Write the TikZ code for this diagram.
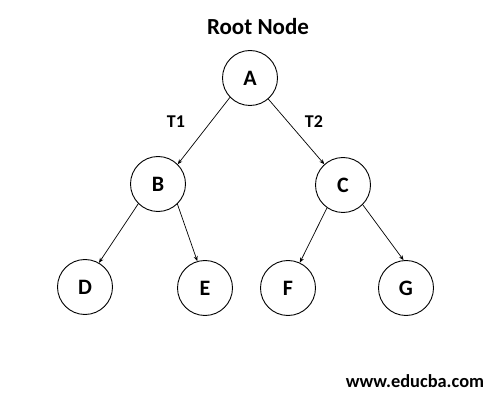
\documentclass[tikz,border=0pt]{standalone}
\usepackage{fontspec}
\setmainfont{Carlito}
\usetikzlibrary{arrows.meta}
\begin{document}
\begin{tikzpicture}[x=1pt,y=-1pt,
  tnode/.style={circle,draw,line width=0.9pt,minimum size=55pt,inner sep=0pt,font=\bfseries\fontsize{22}{24}\selectfont},
  lbl/.style={font=\bfseries\fontsize{18}{20}\selectfont},
  edge/.style={line width=0.7pt,-{Stealth[length=5pt,width=4pt]}}]
\useasboundingbox (0,0) rectangle (504,401);
\node[font=\bfseries\fontsize{23}{26}\selectfont] (title) at (258,27) {Root Node};
\node[tnode] (A) at (250,78) {A};
\node[tnode] (B) at (158,184) {B};
\node[tnode] (C) at (343,185) {C};
\node[tnode] (D) at (85,287) {D};
\node[tnode] (E) at (205,288) {E};
\node[tnode] (F) at (288,288) {F};
\node[tnode] (G) at (406,288) {G};
\node[lbl] (t1) at (176,122) {T1};
\node[lbl] (t2) at (314,122) {T2};
\node[font=\bfseries\fontsize{18.4}{20}\selectfont] (web) at (415,381) {www.educba.com};
\draw[edge] (A.-136) -- (B.45);
\draw[edge] (A.-49) -- (C.132);
\draw[edge] (B.-135) -- (D.60);
\draw[edge] (B.-46) -- (E.106);
\draw[edge] (C.-125) -- (F.65);
\draw[edge] (C.-45) -- (G.95);
\end{tikzpicture}
\end{document}
